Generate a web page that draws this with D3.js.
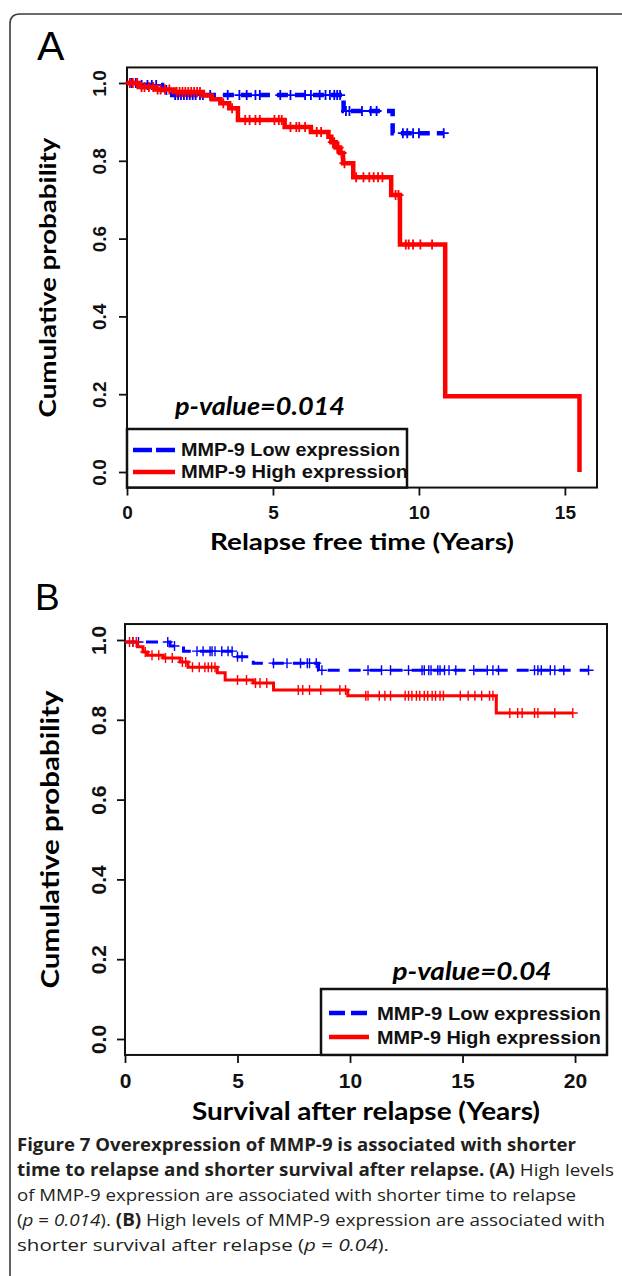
<!DOCTYPE html>
<html>
<head>
<meta charset="utf-8">
<script src="https://cdn.jsdelivr.net/npm/d3@7"></script>
<style>
body { margin: 0; background: #fff; }
</style>
</head>
<body>
<svg id="fig" width="622" height="1276"></svg>
<script>
// ---- panel A : relapse free time ----
var xTicksA = [0, 5, 10, 15];
var lowA_time = [0, 0.38, 1.2, 1.55, 7.42, 9.1];
var lowA_surv = [1.0, 0.995, 0.982, 0.969, 0.928, 0.871];
var lowA_end = 10.85;
var lowA_cens = [0.15, 0.3, 0.5, 0.7, 0.85, 1.0, 1.35, 1.65, 1.75, 1.85, 1.95, 2.05, 2.15, 2.25, 2.35, 2.5, 2.6,
    2.85, 3.45, 3.85, 4.1, 4.4, 4.55, 5.25, 5.6, 6.1, 6.3, 6.6, 6.8, 6.95, 7.1, 7.2, 7.3, 7.5, 7.62,
    8.05, 8.35, 8.55, 9.45, 9.6, 9.8, 10.0, 10.85];
var highA_time = [0, 0.4, 1.0, 1.6, 2.6, 2.9, 3.2, 3.5, 3.8, 5.4, 6.3, 6.9, 7.0, 7.15, 7.3, 7.4, 7.75, 9.05, 9.35, 10.9, 15.5];
var highA_surv = [1.0, 0.99, 0.983, 0.977, 0.968, 0.958, 0.948, 0.935, 0.905, 0.887, 0.874, 0.862, 0.848, 0.834, 0.82, 0.794, 0.758, 0.712, 0.585, 0.195, 0.0];
var highA_end = 15.5;
var highA_cens = [0.1, 0.2, 0.35, 0.5, 0.6, 0.75, 0.9, 1.05, 1.15, 1.3, 1.45, 1.7, 1.8, 1.9, 2.0, 2.1, 2.2, 2.3, 2.4, 2.5,
    3.3, 3.6, 4.05, 4.2, 4.4, 4.55, 5.05, 5.2, 5.3, 5.6, 5.8, 5.9, 6.1, 6.5, 6.65, 7.05, 7.1, 7.2, 7.25, 7.35, 7.45,
    7.85, 8.1, 8.3, 8.45, 8.6, 8.75, 9.2, 9.3, 9.55, 9.65, 9.8, 10.05, 10.45];

// ---- panel B : survival after relapse ----
var xTicksB = [0, 5, 10, 15, 20];
var lowB_time = [0, 2.0, 2.6, 4.9, 5.7, 8.6];
var lowB_surv = [0.995, 0.985, 0.972, 0.958, 0.942, 0.924];
var lowB_end = 20.6;
var lowB_cens = [0.35, 0.6, 1.9, 2.2, 3.2, 3.47, 3.78, 3.87, 4.0, 4.3, 4.58, 4.76, 5.0, 5.2, 6.6, 7.2, 7.8, 8.1, 8.2, 8.5,
    8.75, 10.8, 11.4, 11.8, 12.6, 13.2, 13.3, 13.5, 13.6, 13.9, 14.0, 14.2, 14.4, 14.7, 15.5, 16.1, 16.35, 16.6,
    18.2, 18.35, 18.5, 18.9, 19.1, 19.5, 20.6];
var highB_time = [0, 0.55, 0.8, 1.0, 1.7, 2.45, 2.8, 4.1, 4.45, 5.7, 6.6, 9.9, 16.5];
var highB_surv = [0.995, 0.983, 0.97, 0.962, 0.955, 0.945, 0.932, 0.918, 0.90, 0.892, 0.875, 0.86, 0.817];
var highB_end = 19.9;
var highB_cens = [0.2, 0.35, 0.5, 0.9, 1.2, 1.5, 1.8, 2.1, 2.55, 2.7, 3.0, 3.3, 3.55, 3.7, 3.85, 4.0, 5.0, 5.4, 5.8, 6.0, 6.3,
    7.7, 7.9, 8.2, 8.7, 9.55, 9.8, 10.7, 10.8, 11.3, 11.55, 11.8, 12.45, 12.6, 12.75, 12.95, 13.1, 13.3, 13.45,
    13.65, 13.8, 14.0, 14.15, 14.9, 15.25, 15.55, 15.85, 16.2, 16.35, 17.1, 17.45, 17.65, 18.2, 18.35, 19.1, 19.9];

var yTicks = [0, 0.2, 0.4, 0.6, 0.8, 1.0];
var legendLabels = ["MMP-9 Low expression", "MMP-9 High expression"];
var colors = ["#0000ff", "#ff0000"];

var svg = d3.select("#fig");

// outer frame with rounded top-left corner
svg.append("path")
    .attr("d", "M10,1290 V24 Q10,14 20,14 H640")
    .attr("fill", "none").attr("stroke", "#3c3c3c").attr("stroke-width", 1.6);

function survAt(times, survs, t) {
    var s = survs[0];
    for (var i = 0; i < times.length; i++) {
        if (times[i] <= t) s = survs[i];
    }
    return s;
}

function drawPanel(p) {
    var x = d3.scaleLinear().domain([0, p.xMax]).range([p.left, p.right]);
    var y = d3.scaleLinear().domain([0, 1]).range([p.y0, p.y1]);
    var top = y(1.04), bottom = y(-0.04);
    var g = svg.append("g");

    // panel letter
    g.append("text").attr("x", p.labX).attr("y", p.labY)
        .style("font-family", "Liberation Sans, Arial").style("font-size", p.labSize + "px")
        .text(p.letter);

    // x axis
    var xa = g.append("g").attr("transform", "translate(0," + bottom + ")")
        .call(d3.axisBottom(x).tickValues(p.xTicks).tickSize(8).tickPadding(p.xPad).tickFormat(d3.format("d")));
    xa.select(".domain").remove();
    xa.selectAll("line").attr("stroke", "#111").attr("stroke-width", 1.8);
    xa.selectAll("text").attr("fill", "#111")
        .style("font-family", "Liberation Sans, Arial").style("font-weight", "bold").style("font-size", p.tickSize + "px");

    // y axis, labels turned like R
    var ya = g.append("g").attr("transform", "translate(" + p.left + ",0)")
        .call(d3.axisLeft(y).tickValues(yTicks).tickSize(8).tickFormat(d3.format(".1f")));
    ya.select(".domain").remove();
    ya.selectAll("line").attr("stroke", "#111").attr("stroke-width", 1.8);
    ya.selectAll("text")
        .attr("x", 0).attr("y", p.yLabOff).attr("dy", 0)
        .attr("transform", "rotate(-90)").attr("text-anchor", "middle").attr("fill", "#111")
        .style("font-family", "Liberation Sans, Arial").style("font-weight", "bold").style("font-size", p.tickSize + "px");

    // plot box
    g.append("rect").attr("x", p.left).attr("y", top)
        .attr("width", p.right - p.left).attr("height", bottom - top)
        .attr("fill", "none").attr("stroke", "#111").attr("stroke-width", 2);

    // axis titles
    g.append("text").attr("x", (p.left + p.right) / 2).attr("y", p.xTitleY)
        .attr("text-anchor", "middle").attr("textLength", p.xTitleW).attr("lengthAdjust", "spacingAndGlyphs")
        .style("font-family", "Lato").style("font-weight", "bold").style("font-size", p.titleSize + "px")
        .text(p.xTitle);
    g.append("text").attr("transform", "translate(" + p.yTitleX + "," + (y(0) + y(1)) / 2 + ") rotate(-90)")
        .attr("text-anchor", "middle").attr("textLength", p.yTitleW).attr("lengthAdjust", "spacingAndGlyphs")
        .style("font-family", "Lato").style("font-weight", "bold").style("font-size", p.titleSize + "px")
        .text("Cumulative probability");

    // p-value
    g.append("text").attr("x", p.pvX).attr("y", p.pvY).attr("text-anchor", "middle")
        .attr("textLength", p.pvW).attr("lengthAdjust", "spacingAndGlyphs")
        .style("font-family", "Lato").style("font-weight", "bold").style("font-style", "italic")
        .style("font-size", p.pvSize + "px")
        .text(p.pvText);

    // legend
    g.append("rect").attr("x", p.legL).attr("y", p.legT)
        .attr("width", p.legR - p.legL).attr("height", bottom - p.legT)
        .attr("fill", "#fff").attr("stroke", "#111").attr("stroke-width", 2.5);
    legendLabels.forEach(function (lab, i) {
        var ly = p.legRows[i];
        g.append("line").attr("x1", p.legLineX[0]).attr("x2", p.legLineX[1]).attr("y1", ly).attr("y2", ly)
            .attr("stroke", colors[i]).attr("stroke-width", p.legLw)
            .attr("stroke-dasharray", i == 0 ? p.legDash : null);
        g.append("text").attr("x", p.legTextX).attr("y", ly).attr("dy", "0.36em")
            .attr("textLength", p.legTextW[i]).attr("lengthAdjust", "spacingAndGlyphs")
            .style("font-family", "Liberation Sans, Arial").style("font-weight", "bold")
            .style("font-size", p.legSize + "px").attr("fill", "#111")
            .text(lab);
    });

    // curves
    var line = d3.line().x(function (d) { return x(d[0]); }).y(function (d) { return y(d[1]); })
        .curve(d3.curveStepAfter);
    p.series.forEach(function (s, i) {
        var pts = s.time.map(function (t, k) { return [t, s.surv[k]]; });
        if (s.end > s.time[s.time.length - 1]) pts.push([s.end, s.surv[s.surv.length - 1]]);
        g.append("path").attr("d", line(pts)).attr("fill", "none")
            .attr("stroke", colors[i]).attr("stroke-width", p.lw)
            .attr("stroke-dasharray", i == 0 ? p.dash : null);
        g.append("g").selectAll("path").data(s.cens).enter().append("path")
            .attr("d", function (t) {
                var cx = x(t), cy = y(survAt(s.time, s.surv, t));
                return "M" + (cx - p.mk) + "," + cy + "H" + (cx + p.mk) + "M" + cx + "," + (cy - p.mk) + "V" + (cy + p.mk);
            })
            .attr("stroke", colors[i]).attr("stroke-width", p.mkW).attr("fill", "none");
    });
}

drawPanel({
    letter: "A", labX: 37, labY: 60, labSize: 41,
    left: 127, right: 597, xMax: 16.1, y0: 472, y1: 83,
    xTicks: xTicksA, xPad: 10, tickSize: 19, yLabOff: -21,
    xTitle: "Relapse free time (Years)", xTitleY: 550, xTitleW: 304, titleSize: 23,
    yTitleX: 56, yTitleW: 280,
    pvText: "p-value=0.014", pvX: 260, pvY: 415, pvW: 170, pvSize: 24,
    legL: 127, legR: 407, legT: 429, legRows: [450, 472], legLineX: [133, 175], legLw: 4.5, legDash: "19,4",
    legTextX: 181, legTextW: [219, 227], legSize: 18,
    lw: 4.5, dash: "11,7", mk: 5, mkW: 1.8,
    series: [
        { time: lowA_time, surv: lowA_surv, end: lowA_end, cens: lowA_cens },
        { time: highA_time, surv: highA_surv, end: highA_end, cens: highA_cens }
    ]
});

drawPanel({
    letter: "B", labX: 35, labY: 610, labSize: 37,
    left: 125, right: 607, xMax: 21.42, y0: 1039, y1: 640,
    xTicks: xTicksB, xPad: 10, tickSize: 21, yLabOff: -19,
    xTitle: "Survival after relapse (Years)", xTitleY: 1120, xTitleW: 348, titleSize: 24,
    yTitleX: 59, yTitleW: 298,
    pvText: "p-value=0.04", pvX: 472, pvY: 980, pvW: 159, pvSize: 24,
    legL: 321, legR: 607, legT: 989, legRows: [1013, 1037], legLineX: [329, 369], legLw: 4.5, legDash: "16,6",
    legTextX: 377, legTextW: [224, 224], legSize: 19,
    lw: 3, dash: "12,9", mk: 5, mkW: 1.4,
    series: [
        { time: lowB_time, surv: lowB_surv, end: lowB_end, cens: lowB_cens },
        { time: highB_time, surv: highB_surv, end: highB_end, cens: highB_cens }
    ]
});

// caption: [text, weight, style]
var captionLines = [
    [["Figure 7 Overexpression of MMP-9 is associated with shorter", "bold", "normal"]],
    [["time to relapse and shorter survival after relapse. (A)", "bold", "normal"], [" High levels", "normal", "normal"]],
    [["of MMP-9 expression are associated with shorter time to relapse", "normal", "normal"]],
    [["(", "normal", "normal"], ["p", "normal", "italic"], [" = ", "normal", "normal"], ["0.014", "normal", "italic"],
     ["). ", "normal", "normal"], ["(B)", "bold", "normal"],
     [" High levels of MMP-9 expression are associated with", "normal", "normal"]],
    [["shorter survival after relapse (", "normal", "normal"], ["p", "normal", "italic"], [" = ", "normal", "normal"],
     ["0.04", "normal", "italic"], [").", "normal", "normal"]]
];
var captionWidths = [559, 597, 559, 588, 372];
var cap = svg.append("g");
captionLines.forEach(function (segs, i) {
    var t = cap.append("text").attr("x", 17).attr("y", 1151 + i * 25)
        .attr("textLength", captionWidths[i]).attr("lengthAdjust", "spacingAndGlyphs")
        .style("font-family", "Open Sans").style("font-size", "17px").attr("fill", "#231f20");
    segs.forEach(function (s) {
        t.append("tspan").style("font-weight", s[1]).style("font-style", s[2]).text(s[0]);
    });
});
</script>
</body>
</html>
